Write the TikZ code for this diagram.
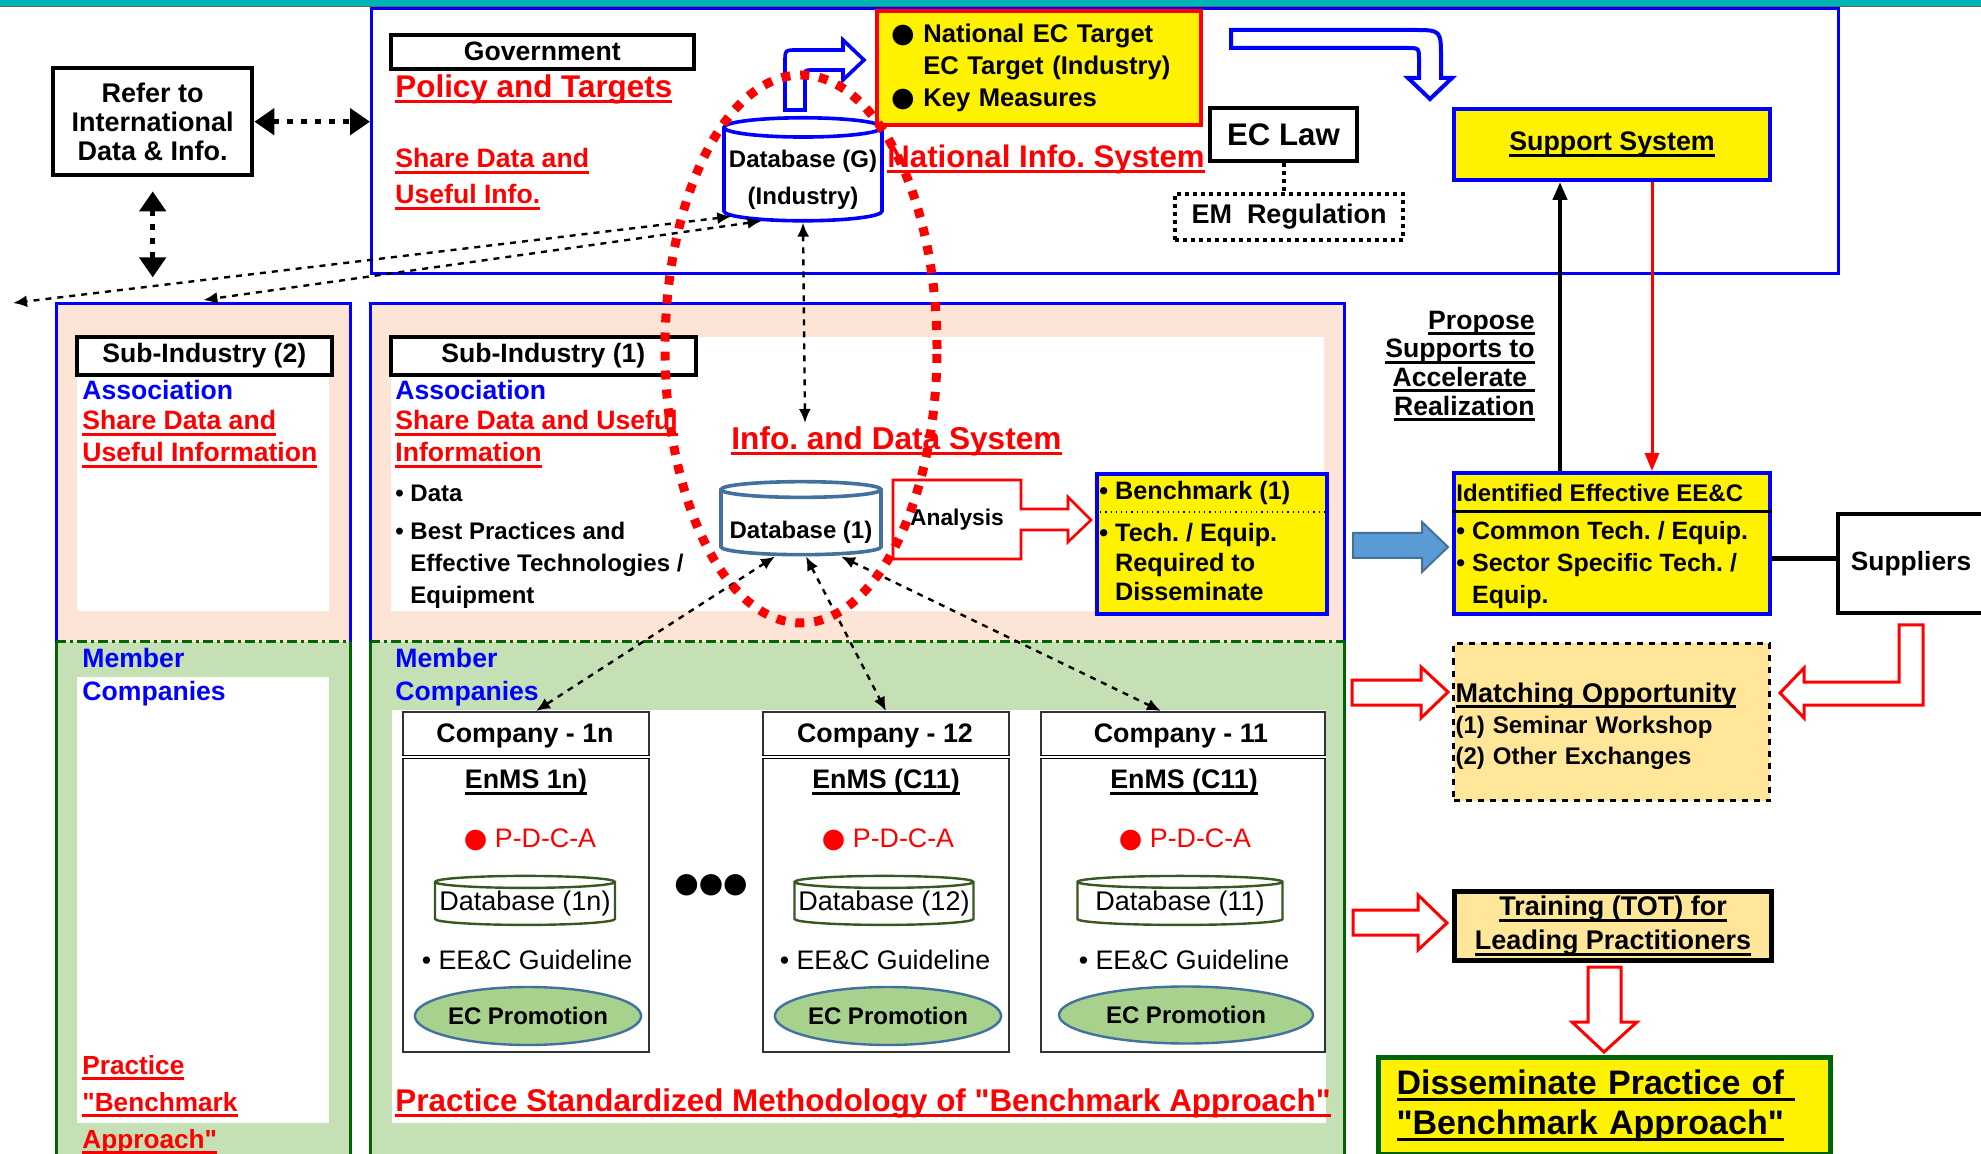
\documentclass[tikz,border=0pt]{standalone}
\usepackage{fontspec}
\setmainfont{Liberation Sans}
\newfontfamily\symfont{DejaVu Sans}
\usetikzlibrary{shapes.geometric,arrows.meta,positioning}
\frenchspacing

\definecolor{topcyan}{HTML}{00B4B4}
\definecolor{pinkbg}{HTML}{FCE4D6}
\definecolor{greenbg}{HTML}{C5E0B4}
\definecolor{dkgreen}{HTML}{006400}
\definecolor{lightorange}{HTML}{FFE699}
\definecolor{steel}{HTML}{41719C}
\definecolor{arrowblue}{HTML}{5B9BD5}
\definecolor{ecgreen}{HTML}{A9D18E}
\definecolor{dbgreen}{HTML}{385723}

% thick underline in the current colour
\newcommand{\ulb}[1]{\setbox0=\hbox{#1}\leavevmode\rlap{\rule[-3pt]{\wd0}{1.5pt}}\box0}
\newcommand{\bigdot}{{\symfont\fontsize{13.5}{13.5}\selectfont ●}}
\newcommand{\qt}{\textquotedbl}

\begin{document}
\begin{tikzpicture}[x=0.5pt, y=-0.5pt,
  txt/.style={inner sep=0pt, align=left, font=\bfseries\fontsize{13.3}{16}\selectfont},
  plain/.style={inner sep=0pt, align=center, font=\fontsize{13.4}{16}\selectfont},
  redtxt/.style={txt, text=red},
  bluetxt/.style={txt, text=blue},
  zone/.style={inner sep=0pt, anchor=north west},
  titlebox/.style={draw, line width=1.8pt, fill=white, inner sep=0pt, anchor=north west, font=\bfseries\fontsize{13.3}{16}\selectfont},
  ybox/.style={draw=blue, fill=yellow, line width=2pt, inner sep=0pt, anchor=north west},
  obox/.style={fill=lightorange, inner sep=0pt, anchor=north west},
  db/.style={cylinder, shape border rotate=90, draw, fill=white, inner sep=0pt},
  compbox/.style={draw=black!80, line width=1pt, fill=white, inner sep=0pt, anchor=north west},
  promo/.style={ellipse, draw=steel, fill=ecgreen, line width=1.2pt, inner sep=0pt, font=\bfseries\fontsize{12}{14}\selectfont},
  dasharrow/.style={dashed, line width=1.2pt, {Latex[length=7pt,width=6pt]}-{Latex[length=7pt,width=6pt]}},
  dotarrow/.style={line width=2.5pt, dash pattern=on 3pt off 4pt, {Triangle[length=10pt,width=13pt]}-{Triangle[length=10pt,width=13pt]}},
  fatred/.style={draw=red, fill=white, line width=1.5pt, line join=miter},
]
\useasboundingbox (0,0) rectangle (1981,1154);

% column zones
\node[zone, fill=pinkbg, minimum width=147pt, minimum height=169pt] (sub2) at (56,304) {};
\node[zone, fill=greenbg, minimum width=147pt, minimum height=260pt] (mem2) at (56,642) {};
\node[zone, fill=pinkbg, minimum width=487pt, minimum height=169pt] (sub1) at (370,304) {};
\node[zone, fill=greenbg, minimum width=487pt, minimum height=260pt] (mem1) at (370,642) {};
\fill[white] (77,337) rectangle (329,611);
\fill[white] (77,677) rectangle (329,1123);
\fill[white] (391,337) rectangle (1324,611);
\fill[white] (392,710) rectangle (1326,1123);
\draw[blue, line width=1.5pt] (sub2.south west) |- (sub2.north east) -- (sub2.south east);
\draw[blue, line width=1.5pt] (sub1.south west) |- (sub1.north east) -- (sub1.south east);
\draw[dkgreen, line width=1.5pt] (mem2.north west) -- (mem2.south west) (mem2.north east) -- (mem2.south east);
\draw[dkgreen, line width=1.5pt] (mem1.north west) -- (mem1.south west) (mem1.north east) -- (mem1.south east);
\draw[dkgreen, line width=1.5pt, dash pattern=on 5pt off 2pt on 1.5pt off 2pt] (mem2.north west) -- (mem2.north east);
\draw[dkgreen, line width=1.5pt, dash pattern=on 5pt off 2pt on 1.5pt off 2pt] (mem1.north west) -- (mem1.north east);

% government zone
\node[zone, draw=blue, line width=1.5pt, minimum width=733.5pt, minimum height=132.5pt] (gov) at (370,7) {};
\fill[topcyan] (0,-2) rectangle (1981,6);
\draw[black!60, line width=0.8pt] (0,6.5) -- (1981,6.5);

\node[titlebox, minimum width=151.5pt, minimum height=17pt] (govlbl) at (389,33) {Government};
\node[redtxt, anchor=west, font=\bfseries\fontsize{15.7}{18}\selectfont] (policy) at (395,89) {\ulb{Policy and Targets}};
\node[redtxt, anchor=west, font=\bfseries\fontsize{13.3}{18}\selectfont] (govshare) at (395,179) {\ulb{Share Data and}\\\ulb{Useful Info.}};

\node[draw, line width=2.2pt, inner sep=0pt, anchor=north west, minimum width=99.5pt, minimum height=53.5pt, align=center, font=\bfseries\fontsize{13.5}{14.5}\selectfont] (refer) at (51,66) {Refer to\\International\\Data \& Info.};
\draw[dotarrow] (refer.east) -- (refer.east -| gov.west);
\draw[dotarrow] ([yshift=-7pt]refer.south) -- ([yshift=-50pt]refer.south);

% national database
\draw[blue, line width=1.8pt, fill=white] (785,110) -- (785,62) .. controls (785,50) .. (797,50) -- (843,50) -- (843,40) -- (864,60) -- (843,80) -- (843,70) -- (812,70) .. controls (805,70) .. (805,77) -- (805,110) -- cycle;
\node[db, draw=blue, line width=1.8pt, minimum width=79pt, minimum height=51.5pt, aspect=0.13, align=center, font=\bfseries\fontsize{12}{18.5}\selectfont] (dbg) at (803,175) {\rule{0pt}{13.5pt}Database (G)\\(Industry)};

\node[draw=red, fill=yellow, line width=2.2pt, inner sep=0pt, anchor=north west, minimum width=162pt, minimum height=57pt, text width=148pt, align=left, font=\bfseries\fontsize{12.8}{16}\selectfont] (targets) at (875,9) {\bigdot\ National EC Target\\\phantom{\bigdot\ }EC Target (Industry)\\\bigdot\ Key Measures};

\node[draw, line width=2pt, fill=white, inner sep=0pt, anchor=north west, minimum width=73.5pt, minimum height=26.5pt, font=\bfseries\fontsize{15.6}{18}\selectfont] (eclaw) at (1208,106) {EC Law};
\node[draw, line width=2pt, dash pattern=on 2pt off 2pt, inner sep=0pt, anchor=north west, minimum width=114pt, minimum height=23pt, font=\bfseries\fontsize{13.5}{16}\selectfont] (emreg) at (1173,192) {EM\ \ Regulation};
\draw[line width=2pt, dash pattern=on 2pt off 2pt] (eclaw.south) -- (eclaw.south |- emreg.north);
\node[redtxt, anchor=west, font=\bfseries\fontsize{15.6}{18}\selectfont] (natinfo) at (887,159) {\ulb{National Info. System}};

\draw[blue, line width=2pt, fill=white] (1231,30) -- (1413,30) .. controls (1441,30) .. (1441,58) -- (1441,78) -- (1452,78) -- (1430,99) -- (1408,78) -- (1419,78) -- (1419,60) .. controls (1419,48) .. (1407,48) -- (1231,48) -- cycle;
\node[ybox, minimum width=158pt, minimum height=35.5pt, font=\bfseries\fontsize{13.4}{16}\selectfont] (support) at (1452,107) {\ulb{Support System}};

% right side
\node[txt, anchor=east, align=right, font=\bfseries\fontsize{13.3}{14.3}\selectfont] (propose) at (1535,366) {\ulb{Propose}\\\ulb{Supports to}\\\ulb{Accelerate }\\\ulb{Realization}};

\node[ybox, minimum width=158pt, minimum height=70.5pt] (ideec) at (1452,471) {};
\draw[line width=1.5pt] ([yshift=-20.5pt]ideec.north west) -- ([yshift=-20.5pt]ideec.north east);
\node[txt, anchor=west, font=\bfseries\fontsize{12}{14}\selectfont] (idhead) at (1456,493) {Identified Effective EE\&C};
\node[txt, anchor=west, font=\bfseries\fontsize{12.5}{16}\selectfont] (idbody) at (1456,565) {• Common Tech. / Equip.\\• Sector Specific Tech. /\\\phantom{• }Equip.};

\node[draw, line width=2pt, fill=white, inner sep=0pt, anchor=north west, minimum width=73pt, minimum height=49.5pt, font=\bfseries\fontsize{13.2}{16}\selectfont] (supp) at (1836,512) {Suppliers};
\draw[line width=2.2pt] ([yshift=-7.5pt]ideec.east) -- ([yshift=-7.5pt]ideec.east -| supp.west);

\draw[line width=2pt, -{Triangle[length=9pt,width=7pt]}] ([xshift=-26pt]ideec.north) -- ([xshift=-26pt]support.south);
\draw[red, line width=1.5pt, -{Triangle[length=9pt,width=7pt]}] ([xshift=20pt]support.south) -- ([xshift=20pt]ideec.north);

\draw[steel, fill=arrowblue, line width=1pt] (1353,533) -- (1422,533) -- (1422,522) -- (1448,547) -- (1422,572) -- (1422,558) -- (1353,558) -- cycle;

\node[obox, draw, dashed, line width=1.5pt, minimum width=158pt, minimum height=78.5pt, text width=156pt, align=left, font=\bfseries\fontsize{12}{15.5}\selectfont] (match) at (1452,642) {\rule{0pt}{14pt}\ulb{\fontsize{13.5}{15.5}\selectfont Matching Opportunity}\\(1) Seminar Workshop\\(2) Other Exchanges};
\draw[fatred] (1352,680) -- (1421,680) -- (1421,667) -- (1448,692) -- (1421,718) -- (1421,705) -- (1352,705) -- cycle;
\draw[fatred] (1899,625) -- (1923,625) -- (1923,705) -- (1804,705) -- (1804,718) -- (1780,693) -- (1804,668) -- (1804,682) -- (1899,682) -- cycle;

\node[obox, draw, line width=2.5pt, minimum width=158.5pt, minimum height=34.5pt, align=center, font=\bfseries\fontsize{13.5}{17}\selectfont] (train) at (1452,889) {\ulb{Training (TOT) for}\\\ulb{Leading Practitioners}};
\draw[fatred] (1353,910) -- (1418,910) -- (1418,895) -- (1447,923) -- (1418,950) -- (1418,935) -- (1353,935) -- cycle;
\draw[fatred] (1588,967) -- (1621,967) -- (1621,1022) -- (1637,1022) -- (1604,1052) -- (1572,1022) -- (1588,1022) -- cycle;

\node[fill=yellow, draw=dkgreen, line width=2.5pt, inner sep=0pt, anchor=north west, minimum width=226pt, minimum height=48.5pt, text width=208pt, align=left, font=\bfseries\fontsize{17}{20}\selectfont] (dissem) at (1376,1055) {\ulb{Disseminate Practice of }\\\ulb{\qt Benchmark Approach\qt}};

% sub-industry (2)
\node[titlebox, minimum width=127.5pt, minimum height=19pt] (sub2lbl) at (75,335) {Sub-Industry (2)};
\node[bluetxt, anchor=west] (assoc2) at (82,390) {Association};
\node[redtxt, anchor=west] (share2) at (82,439) {\ulb{Share Data and}\\\ulb{Useful Information}};
\node[bluetxt, anchor=west, font=\bfseries\fontsize{13.3}{16.5}\selectfont] (member2) at (82,677) {Member\\Companies};
\node[redtxt, anchor=west, font=\bfseries\fontsize{13.1}{18.5}\selectfont] (practice2) at (82,1105) {\ulb{Practice}\\\ulb{\qt Benchmark}\\\ulb{Approach\qt}};

% sub-industry (1)
\node[titlebox, minimum width=152.5pt, minimum height=19pt] (sub1lbl) at (389,335) {Sub-Industry (1)};
\node[bluetxt, anchor=west] (assoc1) at (395,390) {Association};
\node[redtxt, anchor=west] (share1) at (395,439) {\ulb{Share Data and Useful}\\\ulb{Information}};
\node[txt, anchor=west, font=\bfseries\fontsize{12}{16}\selectfont] (data1) at (395,493) {• Data};
\node[txt, anchor=west, font=\bfseries\fontsize{12}{16}\selectfont] (best1) at (395,565) {• Best Practices and\\\phantom{• }Effective Technologies /\\\phantom{• }Equipment};
\node[bluetxt, anchor=west, font=\bfseries\fontsize{13.3}{16.5}\selectfont] (member1) at (395,677) {Member\\Companies};

\node[redtxt, anchor=west, font=\bfseries\fontsize{15.8}{18}\selectfont] (infosys) at (731,441) {\ulb{Info. and Data System}};
\node[db, draw=steel, line width=1.8pt, minimum width=80pt, minimum height=36.5pt, aspect=0.11, font=\bfseries\fontsize{12}{14}\selectfont] (db1) at (801,523) {\rule{0pt}{18pt}Database (1)};

\draw[fatred, line width=1.3pt] (893,480) -- (1021,480) -- (1021,509) -- (1068,509) -- (1068,497) -- (1091,520) -- (1068,542) -- (1068,530) -- (1021,530) -- (1021,559) -- (893,559) -- cycle;
\node[txt, font=\bfseries\fontsize{11.4}{14}\selectfont] (analysis) at (957,520) {Analysis};

\node[ybox, minimum width=115pt, minimum height=70pt] (bench) at (1095,472) {};
\draw[dotted, line width=0.6pt] ([yshift=-20pt]bench.north west) -- ([yshift=-20pt]bench.north east);
\node[txt, anchor=west, font=\bfseries\fontsize{12.6}{15}\selectfont] (benchtxt) at (1099,493) {• Benchmark (1)};
\node[txt, anchor=west, font=\bfseries\fontsize{12.6}{14.8}\selectfont] (techtxt) at (1099,562) {• Tech. / Equip.\\\phantom{• }Required to\\\phantom{• }Disseminate};

% companies
\node[compbox, minimum width=123pt, minimum height=170pt] (comp1n) at (402,711) {};
\draw[double, double distance=1pt, line width=0.6pt] ([yshift=-23pt]comp1n.north west) -- ([yshift=-23pt]comp1n.north east);
\node[txt, font=\bfseries\fontsize{13.4}{16}\selectfont] (c1ntitle) at (525,736) {Company - 1n};
\node[txt, font=\bfseries\fontsize{13.4}{16}\selectfont] (c1nems) at (526,782) {\ulb{EnMS 1n)}};
\node[plain, text=red] (c1npdca) at (530,840) {\bigdot\ P-D-C-A};
\node[db, draw=dbgreen, line width=1.2pt, minimum width=90pt, minimum height=24.5pt, aspect=0.07, font=\fontsize{13.5}{16}\selectfont] (c1ndb) at (525,904) {Database (1n)};
\node[plain] (c1nguide) at (527,960) {• EE\&C Guideline};
\node[promo, minimum width=110.5pt, minimum height=29pt] (c1npromo) at (528,1016) {EC Promotion};

\node[compbox, minimum width=123pt, minimum height=170pt] (comp12) at (762,711) {};
\draw[double, double distance=1pt, line width=0.6pt] ([yshift=-23pt]comp12.north west) -- ([yshift=-23pt]comp12.north east);
\node[txt, font=\bfseries\fontsize{13.4}{16}\selectfont] (c12title) at (885,736) {Company - 12};
\node[txt, font=\bfseries\fontsize{13.4}{16}\selectfont] (c12ems) at (886,782) {\ulb{EnMS (C11)}};
\node[plain, text=red] (c12pdca) at (888,840) {\bigdot\ P-D-C-A};
\node[db, draw=dbgreen, line width=1.2pt, minimum width=89.5pt, minimum height=24.5pt, aspect=0.07, font=\fontsize{13.5}{16}\selectfont] (c12db) at (884,904) {Database (12)};
\node[plain] (c12guide) at (885,960) {• EE\&C Guideline};
\node[promo, minimum width=110.5pt, minimum height=29pt] (c12promo) at (888,1016) {EC Promotion};

\node[compbox, minimum width=142pt, minimum height=170pt] (comp11) at (1040,711) {};
\draw[double, double distance=1pt, line width=0.6pt] ([yshift=-23pt]comp11.north west) -- ([yshift=-23pt]comp11.north east);
\node[txt, font=\bfseries\fontsize{13.4}{16}\selectfont] (c11title) at (1181,736) {Company - 11};
\node[txt, font=\bfseries\fontsize{13.4}{16}\selectfont] (c11ems) at (1184,782) {\ulb{EnMS (C11)}};
\node[plain, text=red] (c11pdca) at (1185,840) {\bigdot\ P-D-C-A};
\node[db, draw=dbgreen, line width=1.2pt, minimum width=102.5pt, minimum height=24.5pt, aspect=0.07, font=\fontsize{13.5}{16}\selectfont] (c11db) at (1180,904) {Database (11)};
\node[plain] (c11guide) at (1184,960) {• EE\&C Guideline};
\node[promo, minimum width=127pt, minimum height=28.5pt] (c11promo) at (1186,1015) {EC Promotion};

\node[inner sep=0pt, font=\symfont\fontsize{14}{14}\selectfont] (moredots) at (711,885) {●●●};
\node[redtxt, anchor=west, font=\bfseries\fontsize{15.7}{18}\selectfont] (practice1) at (395,1103) {\ulb{Practice Standardized Methodology of \qt Benchmark Approach\qt}};

% data links
\coordinate (farleft) at (13,303);
\coordinate (infotop) at (805,423);
\draw[dasharrow] (dbg.210) -- (farleft);
\draw[dasharrow] (dbg.228) -- ([yshift=2pt]sub2.north);
\draw[dasharrow] (dbg.south) -- (infotop);
\draw[dasharrow] ([xshift=-13pt]db1.south) -- ([xshift=5pt]comp1n.north);
\draw[dasharrow] ([xshift=2.5pt]db1.south) -- (comp12.north);
\draw[dasharrow] ([xshift=20pt]db1.south) -- ([xshift=-11pt]comp11.north);

% national / sub-industry information loop
\draw[red, line width=4.5pt, dash pattern=on 4.5pt off 5pt] (801,349) ellipse [x radius=68pt, y radius=137pt];
\end{tikzpicture}
\end{document}
